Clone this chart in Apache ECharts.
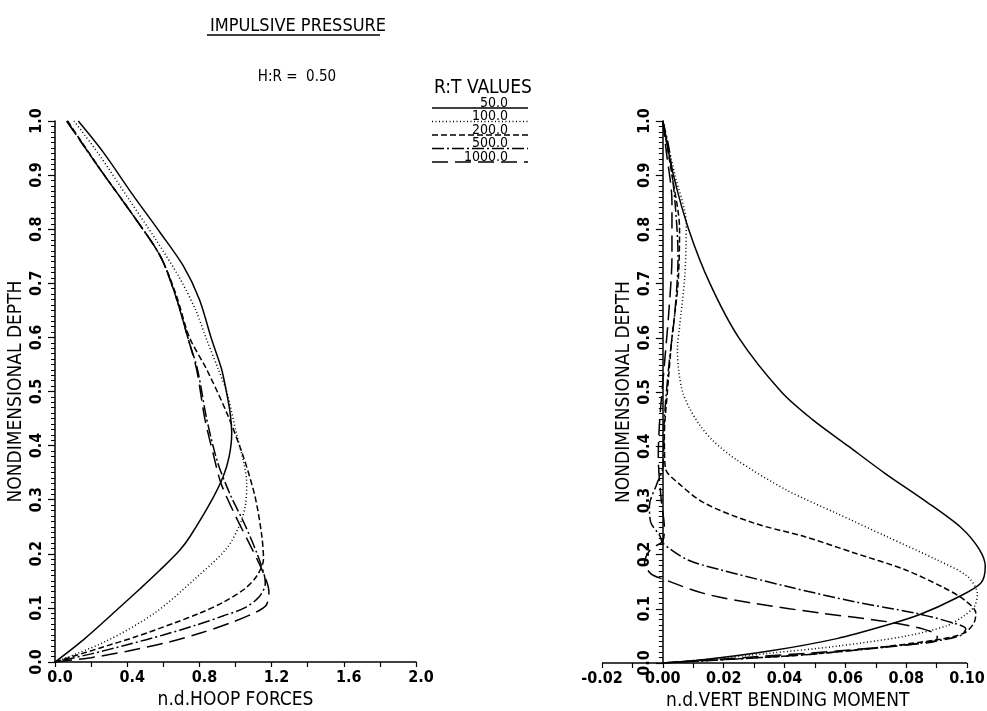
<!DOCTYPE html>
<html><head><meta charset="utf-8">
<script src="https://cdn.jsdelivr.net/npm/echarts@6/dist/echarts.min.js"></script>
<style>html,body{margin:0;padding:0;background:#fff}#c{width:987px;height:711px}</style>
</head><body><div id="c"></div>
<script>
// ---- data ----
const seriesNames = ['50.0', '100.0', '200.0', '500.0', '1000.0'];

// hoop force (x) vs nondimensional depth (y)
const hoop50 = [[0.129,1.0],[0.268,0.942],[0.434,0.862],[0.582,0.794],[0.711,0.732],[0.80,0.67],[0.868,0.596],[0.923,0.541],[0.955,0.49],[0.970,0.461],[0.979,0.423],[0.965,0.38],[0.932,0.343],[0.86,0.294],[0.748,0.232],[0.692,0.207],[0.582,0.170],[0.47,0.135],[0.342,0.096],[0.157,0.041],[0,0]];
const hoop100 = [[0.105,1.0],[0.24,0.94],[0.41,0.855],[0.56,0.78],[0.69,0.71],[0.78,0.65],[0.84,0.596],[0.905,0.541],[0.951,0.50],[1.007,0.42],[1.045,0.37],[1.062,0.33],[1.055,0.29],[1.025,0.255],[0.951,0.21],[0.78,0.155],[0.55,0.09],[0.28,0.038],[0,0]];
const hoop200 = [[0.07,1.0],[0.25,0.911],[0.434,0.825],[0.582,0.751],[0.67,0.68],[0.745,0.60],[0.84,0.541],[0.951,0.461],[1.043,0.38],[1.108,0.306],[1.145,0.235],[1.155,0.19],[1.12,0.16],[1.05,0.135],[0.93,0.11],[0.80,0.09],[0.66,0.072],[0.45,0.047],[0.25,0.026],[0,0]];
const hoop500 = [[0.065,1.0],[0.249,0.911],[0.434,0.825],[0.582,0.751],[0.665,0.68],[0.739,0.596],[0.79,0.54],[0.84,0.45],[0.90,0.37],[0.97,0.31],[1.05,0.255],[1.12,0.2],[1.16,0.16],[1.165,0.145],[1.13,0.12],[1.05,0.10],[0.93,0.085],[0.78,0.068],[0.60,0.05],[0.40,0.032],[0.2,0.015],[0,0]];
const hoop1000 = [[0.065,1.0],[0.249,0.911],[0.434,0.825],[0.582,0.751],[0.665,0.68],[0.739,0.596],[0.785,0.54],[0.83,0.45],[0.88,0.38],[0.92,0.33],[1.00,0.27],[1.09,0.21],[1.16,0.16],[1.185,0.13],[1.17,0.105],[1.10,0.09],[0.97,0.072],[0.82,0.055],[0.62,0.036],[0.40,0.02],[0.2,0.008],[0,0]];

// vertical bending moment (x) vs nondimensional depth (y)
const moment50 = [[0,1.0],[0.0035,0.9],[0.0085,0.8],[0.0155,0.7],[0.025,0.6],[0.039,0.5],[0.049,0.45],[0.061,0.4],[0.073,0.35],[0.086,0.3],[0.098,0.25],[0.104,0.21],[0.106,0.178],[0.1045,0.147],[0.0965,0.12],[0.0847,0.09],[0.0737,0.07],[0.0572,0.045],[0.035,0.022],[0.0132,0.006],[0,0]];
const moment100 = [[0,1.0],[0.004,0.9],[0.0077,0.81],[0.0072,0.712],[0.0055,0.62],[0.0048,0.58],[0.0052,0.54],[0.0065,0.5],[0.0088,0.47],[0.012,0.44],[0.0165,0.41],[0.0242,0.375],[0.0407,0.319],[0.0572,0.276],[0.0737,0.233],[0.0902,0.19],[0.1001,0.16],[0.1034,0.128],[0.1025,0.105],[0.0985,0.085],[0.093,0.068],[0.0792,0.049],[0.0572,0.031],[0.035,0.018],[0.013,0.006],[0,0]];
const moment200 = [[0,1.0],[0.003,0.9],[0.0055,0.8],[0.005,0.7],[0.003,0.6],[0.0015,0.5],[0.0005,0.42],[0.0008,0.36],[0.0055,0.33],[0.0137,0.295],[0.030,0.258],[0.0467,0.233],[0.063,0.203],[0.0797,0.172],[0.092,0.14],[0.099,0.117],[0.1029,0.092],[0.1023,0.074],[0.099,0.055],[0.0902,0.043],[0.0682,0.027],[0.0462,0.015],[0.019,0.006],[0,0]];
const moment500 = [[0,1.0],[0.002,0.95],[0.004,0.85],[0.005,0.75],[0.004,0.65],[0.002,0.55],[0.0005,0.45],[0,0.36],[-0.002,0.33],[-0.0044,0.29],[-0.004,0.26],[-0.001,0.235],[0,0.221],[0.0083,0.19],[0.019,0.172],[0.041,0.141],[0.063,0.113],[0.083,0.092],[0.096,0.073],[0.0996,0.063],[0.098,0.051],[0.0902,0.041],[0.0737,0.0295],[0.046,0.015],[0.02,0.006],[0,0]];
const moment1000 = [[0,1.0],[0.001,0.95],[0.003,0.85],[0.003,0.75],[0.002,0.65],[0.0005,0.55],[-0.001,0.45],[-0.0015,0.38],[-0.0005,0.3],[0.0005,0.25],[0,0.225],[-0.004,0.21],[-0.006,0.185],[-0.004,0.165],[0,0.155],[0.0137,0.128],[0.030,0.110],[0.052,0.092],[0.074,0.076],[0.086,0.062],[0.0902,0.05],[0.0897,0.04],[0.079,0.033],[0.057,0.022],[0.024,0.009],[0,0]];

const hoopSets = [hoop50, hoop100, hoop200, hoop500, hoop1000];
const momentSets = [moment50, moment100, moment200, moment500, moment1000];

// tick label values
const momentTicks = [-0.02,-0.01,0,0.01,0.02,0.03,0.04,0.05,0.06,0.07,0.08,0.09,0.10];
const momentLabels = [-0.02,0,0.02,0.04,0.06,0.08,0.10];
const momentRange = [-0.02, 0.10];

// ---- styles ----
const FONT = "'Liberation Sans Narrow','DejaVu Sans Condensed','DejaVu Sans',sans-serif";
const dashes = ['solid', [1, 2.5], [6, 3], [12, 3, 2, 3], [16, 7]];
const BLACK = '#000';

// right panel scale: labelled range spans 365px; axis extended so curves beyond 0.10 show
const rightLeft = 602, rightLabelledWidth = 365;
const rightPxPerUnit = rightLabelledWidth / (momentRange[1] - momentRange[0]);
const rightMax = 0.11;
const rightWidth = (rightMax - momentRange[0]) * rightPxPerUnit;

function axisCommon() {
  return {
    axisLine: { onZero: false, lineStyle: { color: BLACK, width: 1.5 } },
    axisTick: { show: true, length: 5, lineStyle: { color: BLACK, width: 1.2 } },
    splitLine: { show: false },
    nameTextStyle: { color: BLACK, fontFamily: FONT, fontSize: 19 },
  };
}
const near = (v, step) => Math.abs(v / step - Math.round(v / step)) < 1e-6;
const labelStyle = { color: BLACK, fontFamily: FONT, fontSize: 16, fontWeight: 'bold' };

const xAxes = [
  Object.assign(axisCommon(), {
    gridIndex: 0, type: 'value', min: 0, max: 2, interval: 0.2,
    name: 'n.d.HOOP FORCES', nameLocation: 'middle', nameGap: 20,
    axisLabel: Object.assign({ margin: 8, padding: [0, 0, 0, 10],
      formatter: v => near(v, 0.4) ? v.toFixed(1) : '' }, labelStyle),
  }),
  Object.assign(axisCommon(), {
    gridIndex: 1, type: 'value', min: momentRange[0], max: rightMax, interval: 0.01,
    name: 'n.d.VERT BENDING MOMENT', nameLocation: 'middle', nameGap: 20,
    nameTextStyle: { color: BLACK, fontFamily: FONT, fontSize: 19, padding: [0, 24, 0, 0] },
    axisLine: { show: false },
    axisTick: { show: true, length: 5, customValues: momentTicks, lineStyle: { color: BLACK, width: 1.2 } },
    axisLabel: Object.assign({ margin: 8, customValues: momentLabels,
      formatter: v => v.toFixed(2) }, labelStyle),
  }),
];
function yAxisFor(i, offset) {
  const a = axisCommon();
  return Object.assign(a, {
    gridIndex: i, type: 'value', min: 0, max: 1, interval: 0.1, offset: offset,
    name: 'NONDIMENSIONAL DEPTH', nameLocation: 'middle', nameGap: 29, nameRotate: 90,
    axisTick: { show: true, length: 7, lineStyle: { color: BLACK, width: 1.2 } },
    minorTick: { show: true, splitNumber: 10, length: 4, lineStyle: { color: BLACK, width: 1 } },
    axisLabel: Object.assign({ rotate: 90, margin: 10, formatter: v => v.toFixed(1) }, labelStyle),
  });
}

const series = [];
seriesNames.forEach((n, i) => {
  series.push({ name: n, type: 'line', xAxisIndex: 0, yAxisIndex: 0, data: hoopSets[i],
    showSymbol: false, smooth: 0.3, clip: false,
    lineStyle: { color: BLACK, width: 1.5, type: dashes[i] } });
  const s = { name: n, type: 'line', xAxisIndex: 1, yAxisIndex: 1, data: momentSets[i],
    showSymbol: false, smooth: 0.3, clip: false,
    lineStyle: { color: BLACK, width: 1.5, type: dashes[i] } };
  if (i === 0) {
    // x axis line of the right panel, spanning only the labelled range
    s.markLine = { symbol: 'none', silent: true, animation: false, label: { show: false },
      lineStyle: { color: BLACK, type: 'solid', width: 1.5 },
      data: [[{ coord: [momentRange[0], 0] }, { coord: [momentRange[1], 0] }]] };
  }
  series.push(s);
});

// legend drawn as line samples with overlapping labels, like the plotter original
const legendX1 = 432, legendX2 = 528, legendTop = 108, legendStep = 13.5;
const graphics = [
  { type: 'line', shape: { x1: 207, y1: 35, x2: 380, y2: 35 }, style: { stroke: BLACK, lineWidth: 1.3 } },
  { type: 'text', left: 434, top: 79, style: { text: 'R:T VALUES', fill: BLACK, font: "19px " + FONT } },
];
seriesNames.forEach((n, i) => {
  const y = legendTop + i * legendStep;
  const d = dashes[i];
  graphics.push({ type: 'line', shape: { x1: legendX1, y1: y, x2: legendX2, y2: y },
    style: { stroke: BLACK, lineWidth: 1.3, lineDash: Array.isArray(d) ? d : null } });
  graphics.push({ type: 'text', x: 508, y: y + 2, style: { text: n, fill: BLACK, font: "14px " + FONT,
    textAlign: 'right', textVerticalAlign: 'bottom' } });
});

const chart = echarts.init(document.getElementById('c'), null, { renderer: 'canvas' });
chart.setOption({
  backgroundColor: '#fff',
  animation: false,
  title: [
    { text: 'IMPULSIVE PRESSURE', left: 293, top: 12, textAlign: 'center',
      textStyle: { color: BLACK, fontFamily: FONT, fontSize: 18, fontWeight: 'normal' } },
    { text: 'H:R =  0.50', left: 292, top: 65, textAlign: 'center',
      textStyle: { color: BLACK, fontFamily: FONT, fontSize: 15, fontWeight: 'normal' } },
  ],
  grid: [
    { left: 55, top: 121, width: 361, height: 541, outerBoundsMode: 'none', containLabel: false },
    { left: rightLeft, top: 121, width: rightWidth, height: 542, outerBoundsMode: 'none', containLabel: false },
  ],
  xAxis: xAxes,
  yAxis: [yAxisFor(0, 0), yAxisFor(1, -(0 - momentRange[0]) * rightPxPerUnit)],
  series: series,
  graphic: graphics,
});
</script></body></html>
